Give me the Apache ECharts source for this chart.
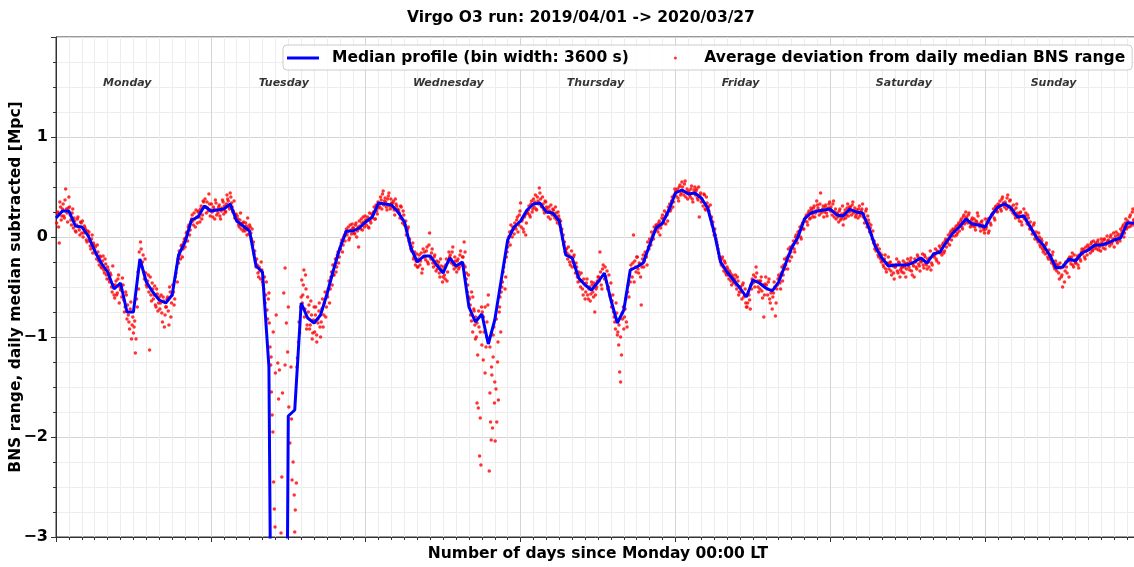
<!DOCTYPE html>
<html>
<head>
<meta charset="utf-8">
<title>Virgo O3 run</title>
<script src="https://cdn.jsdelivr.net/npm/echarts@6/dist/echarts.min.js"></script>
<style>
  html, body { margin: 0; padding: 0; background: #fff; }
  #chart { width: 1134px; height: 567px; }
</style>
</head>
<body>
<div id="chart"></div>
<script>
const FONT = 'DejaVu Sans'

// hourly median profile, index = hours since Monday 00:00 LT
const medianProfile = [
  0.19, 0.26, 0.26, 0.11, 0.10, 0.01, -0.14, -0.26, -0.35, -0.52, -0.46, -0.75,
  -0.75, -0.22, -0.45, -0.55, -0.63, -0.66, -0.58, -0.18, -0.05, 0.17, 0.20, 0.31,
  0.26, 0.27, 0.28, 0.33, 0.16, 0.11, 0.06, -0.29, -0.35, -1.30, -10, -12,
  -1.79, -1.73, -0.66, -0.81, -0.86, -0.78, -0.57, -0.33, -0.11, 0.06, 0.06, 0.09,
  0.15, 0.20, 0.34, 0.33, 0.32, 0.25, 0.15, -0.11, -0.25, -0.19, -0.19, -0.28,
  -0.36, -0.21, -0.29, -0.25, -0.70, -0.85, -0.77, -1.07, -0.83, -0.43, -0.03, 0.10,
  0.16, 0.27, 0.33, 0.34, 0.25, 0.24, 0.16, -0.18, -0.21, -0.41, -0.48, -0.53,
  -0.45, -0.36, -0.63, -0.86, -0.73, -0.33, -0.30, -0.26, -0.08, 0.09, 0.14, 0.27,
  0.44, 0.47, 0.43, 0.44, 0.39, 0.29, 0.05, -0.25, -0.35, -0.43, -0.51, -0.60,
  -0.43, -0.46, -0.51, -0.54, -0.45, -0.28, -0.11, 0.00, 0.18, 0.24, 0.26, 0.27,
  0.28, 0.22, 0.21, 0.28, 0.25, 0.24, 0.09, -0.10, -0.21, -0.29, -0.28, -0.28,
  -0.28, -0.25, -0.21, -0.26, -0.17, -0.15, -0.05, 0.04, 0.10, 0.18, 0.13, 0.12,
  0.10, 0.22, 0.30, 0.33, 0.29, 0.20, 0.21, 0.10, -0.01, -0.08, -0.18, -0.31,
  -0.30, -0.22, -0.24, -0.16, -0.13, -0.08, -0.08, -0.06, -0.03, -0.01, 0.14, 0.14,
  0.15
]

// average deviation dots, one group per hour of each day (first pass)
const devMonday = [
  [0.14, 0.25, -0.06, 0.30, 0.21], [0.33, 0.19, 0.48, 0.24, 0.29], [0.30, 0.17, 0.24, 0.09, 0.16],
  [0.05, 0.18, 0.10, 0.02, 0.14], [0.16, 0.04, 0.09, -0.03, 0.06], [0.05, -0.09, -0.02, -0.16, -0.08],
  [-0.10, -0.22, -0.15, -0.28, -0.20], [-0.31, -0.19, -0.36, -0.27, -0.42], [-0.33, -0.45, -0.38, -0.55, -0.48],
  [-0.61, -0.44, -0.56, -0.38, -0.50], [-0.52, -0.41, -0.63, -0.70, -0.58], [-0.68, -0.85, -0.72, -1.02, -0.80],
  [-0.90, -1.16, -0.62, -0.35, -0.15], [-0.05, -0.30, -0.18, -0.42, -0.36], [-0.50, -0.38, -1.13, -0.58, -0.46],
  [-0.62, -0.49, -0.70, -0.57, -0.66], [-0.72, -0.58, -0.85, -0.64, -0.78], [-0.70, -0.60, -0.88, -0.55, -0.66],
  [-0.48, -0.68, -0.40, -0.30, -0.22], [-0.14, -0.22, -0.08, -0.12, -0.02], [-0.01, 0.05, 0.10, 0.02, 0.15],
  [0.22, 0.12, 0.18, 0.27, 0.14], [0.26, 0.15, 0.31, 0.22, 0.35], [0.38, 0.24, 0.29, 0.43, 0.21]
]
const devTuesday = [
  [0.33, 0.20, 0.28, 0.37, 0.22], [0.24, 0.32, 0.18, 0.29, 0.35], [0.31, 0.25, 0.42, 0.36, 0.28],
  [0.40, 0.30, 0.26, 0.19, 0.23], [0.21, 0.12, 0.17, 0.08, 0.14], [0.15, 0.06, 0.11, 0.19, 0.03],
  [0.10, -0.02, -0.08, -0.17, -0.24], [-0.22, -0.36, -0.30, -0.42, -0.33], [-0.48, -0.40, -0.58, -0.73, -0.62],
  [-0.86, -1.10, -1.28, -1.55, -1.78, -1.95, -2.45, -2.72, -2.90], [-0.78, -1.26, -1.33, -2.96],
  [-1.56, -0.56, -0.31, -0.86, -1.15], [-1.70, -2.06, -1.30, -2.43, -2.25, -2.58],
  [-2.73, -2.46, -1.21, -1.05, -0.96, -0.70], [-0.43, -0.58, -0.33, -0.72, -0.52, -0.88],
  [-0.75, -0.92, -0.64, -1.02, -0.83], [-0.95, -0.70, -1.05, -0.82, -0.74, -0.90],
  [-0.85, -0.62, -0.78, -0.55, -0.70], [-0.60, -0.44, -0.52, -0.35, -0.28], [-0.38, -0.22, -0.30, -0.15, -0.20],
  [-0.12, -0.03, -0.08, 0.02, 0.05], [0.02, 0.10, -0.01, 0.07, 0.13], [0.09, 0.03, 0.14, 0.06, -0.10],
  [0.11, 0.18, 0.07, 0.15, 0.21]
]
const devWednesday = [
  [0.12, 0.20, 0.09, 0.16, 0.23], [0.22, 0.30, 0.18, 0.26, 0.35], [0.33, 0.40, 0.28, 0.46, 0.36],
  [0.35, 0.27, 0.41, 0.31, 0.38], [0.30, 0.36, 0.22, 0.33, 0.28], [0.27, 0.19, 0.30, 0.14, 0.22],
  [0.12, 0.02, 0.08, -0.04, -0.08], [-0.14, -0.06, -0.20, -0.28, -0.17], [-0.30, -0.18, -0.24, -0.36, -0.12],
  [-0.15, -0.23, -0.10, -0.27, 0.04], [-0.22, -0.12, -0.30, -0.18, -0.34], [-0.32, -0.25, -0.40, -0.29, -0.45],
  [-0.30, -0.42, -0.22, -0.35, -0.15], [-0.18, -0.26, -0.10, -0.32, -0.24], [-0.35, -0.22, -0.30, -0.14, -0.28],
  [-0.20, -0.05, -0.30, -0.42, -0.55, -0.38], [-0.62, -0.78, -0.55, -0.95, -0.72, -0.88],
  [-0.80, -1.00, -1.66, -1.18, -1.71, -0.90, -2.19, -1.81, -2.28, -0.70],
  [-0.75, -1.23, -0.95, -1.36, -1.10, -0.85, -0.68],
  [-1.05, -2.34, -1.56, -1.85, -2.03, -1.38, -1.91, -1.20, -0.90, -1.66],
  [-2.04, -1.52, -1.85, -1.25, -1.63, -0.75, -0.60, -0.95],
  [-0.50, -0.35, -0.25, -0.40, -0.15], [-0.05, 0.05, 0.12, 0.00, 0.08], [0.14, 0.08, 0.20, 0.12, 0.26]
]
const devThursday = [
  [0.10, 0.18, 0.05, 0.22, 0.14], [0.24, 0.31, 0.20, 0.36, 0.28], [0.30, 0.42, 0.27, 0.36, 0.49],
  [0.38, 0.30, 0.33, 0.24, 0.35], [0.28, 0.20, 0.26, 0.32, 0.22], [0.27, 0.19, 0.24, 0.14, 0.21],
  [0.12, 0.06, -0.02, -0.08, -0.15], [-0.12, -0.22, -0.18, -0.28, -0.14], [-0.25, -0.18, -0.36, -0.30, -0.45],
  [-0.38, -0.50, -0.44, -0.58, -0.47], [-0.55, -0.42, -0.62, -0.50, -0.57], [-0.48, -0.60, -0.75, -0.52, -0.44],
  [-0.40, -0.15, -0.48, -0.32, -0.38], [-0.30, -0.45, -0.52, -0.38, -0.60], [-0.70, -0.58, -0.80, -0.92, -0.76],
  [-0.95, -1.08, -1.35, -1.45, -1.18, -0.82, -0.70], [-0.80, -0.62, -0.90, -0.48, -0.38],
  [-0.28, -0.40, 0.02, -0.24, -0.35], [-0.20, -0.36, -0.27, -0.68, -0.22], [-0.30, -0.15, -0.20, -0.05, -0.12],
  [-0.04, 0.05, 0.02, 0.10, 0.07], [0.12, 0.05, 0.16, 0.09, 0.19], [0.18, 0.26, 0.13, 0.22, 0.30],
  [0.33, 0.28, 0.40, 0.35, 0.48]
]
const devFriday = [
  [0.41, 0.48, 0.36, 0.52, 0.44], [0.50, 0.42, 0.56, 0.45, 0.38], [0.46, 0.40, 0.51, 0.35, 0.47],
  [0.42, 0.48, 0.37, 0.20, 0.44], [0.38, 0.31, 0.42, 0.27, 0.34], [0.30, 0.22, 0.18, 0.12, 0.06],
  [0.08, -0.02, -0.08, -0.16, -0.22], [-0.28, -0.20, -0.34, -0.26, -0.38], [-0.32, -0.42, -0.36, -0.48, -0.40],
  [-0.45, -0.38, -0.52, -0.44, -0.55], [-0.50, -0.62, -0.46, -0.58, -0.66], [-0.70, -0.55, -0.63, -0.48, -0.42],
  [-0.38, -0.50, -0.30, -0.44, -0.55], [-0.52, -0.40, -0.61, -0.80, -0.47], [-0.48, -0.58, -0.42, -0.66, -0.53],
  [-0.60, -0.45, -0.79, -0.52, -0.42], [-0.40, -0.52, -0.30, -0.38, -0.22], [-0.28, -0.20, -0.12, -0.24, -0.15],
  [-0.10, -0.04, -0.15, 0.02, -0.06], [0.03, 0.10, -0.02, 0.14, 0.08], [0.16, 0.22, 0.12, 0.26, 0.19],
  [0.27, 0.20, 0.31, 0.24, 0.36], [0.29, 0.22, 0.44, 0.26, 0.31], [0.25, 0.32, 0.21, 0.29, 0.35]
]
const devSaturday = [
  [0.30, 0.22, 0.36, 0.25, 0.18], [0.24, 0.15, 0.28, 0.19, 0.31], [0.18, 0.27, 0.22, 0.33, 0.25],
  [0.30, 0.22, 0.35, 0.26, 0.20], [0.27, 0.19, 0.31, 0.23, 0.28], [0.20, 0.14, 0.26, 0.10, 0.17],
  [0.05, 0.12, -0.02, -0.06, -0.12], [-0.14, -0.08, -0.20, -0.16, -0.25], [-0.24, -0.30, -0.18, -0.35, -0.27],
  [-0.32, -0.25, -0.38, -0.29, -0.42], [-0.30, -0.22, -0.36, -0.26, -0.33], [-0.35, -0.24, -0.30, -0.40, -0.27],
  [-0.26, -0.33, -0.21, -0.38, -0.29], [-0.22, -0.30, -0.18, -0.27, -0.34], [-0.25, -0.17, -0.31, -0.20, -0.28],
  [-0.22, -0.30, -0.14, -0.26, -0.19], [-0.20, -0.12, -0.24, -0.15, -0.09], [-0.11, -0.18, -0.06, -0.14, -0.02],
  [-0.04, 0.02, -0.08, 0.06, 0.01], [0.07, 0.01, 0.11, 0.04, 0.14], [0.12, 0.18, 0.08, 0.22, 0.15],
  [0.20, 0.14, 0.24, 0.10, 0.17], [0.11, 0.18, 0.07, 0.15, 0.21], [0.13, 0.06, 0.16, 0.09, 0.04]
]
const devSunday = [
  [0.08, 0.15, 0.04, 0.19, 0.12], [0.22, 0.28, 0.17, 0.31, 0.25], [0.30, 0.36, 0.26, 0.40, 0.33],
  [0.35, 0.28, 0.42, 0.31, 0.37], [0.30, 0.24, 0.27, 0.19, 0.33], [0.22, 0.16, 0.25, 0.12, 0.20],
  [0.18, 0.24, 0.13, 0.19, 0.08], [0.08, 0.03, 0.12, -0.02, 0.05], [-0.03, 0.04, -0.08, -0.02, -0.12],
  [-0.10, -0.17, -0.06, -0.20, -0.13], [-0.20, -0.26, -0.15, -0.30, -0.24], [-0.34, -0.28, -0.42, -0.31, -0.38],
  [-0.30, -0.45, -0.25, -0.36, -0.22], [-0.20, -0.27, -0.16, -0.30, -0.23], [-0.26, -0.19, -0.31, -0.22, -0.15],
  [-0.17, -0.12, -0.22, -0.14, -0.08], [-0.10, -0.16, -0.05, -0.13, -0.09], [-0.06, -0.12, -0.03, -0.10, -0.14],
  [-0.05, -0.11, -0.02, -0.08, 0.01], [-0.03, -0.09, 0.02, -0.05, 0.04], [-0.02, 0.05, -0.06, 0.01, -0.04],
  [0.03, 0.10, 0.00, 0.14, 0.08], [0.16, 0.10, 0.22, 0.13, 0.28], [0.12, 0.19, 0.35, 0.15, 0.21]
]

// second pass of dots, sitting between the first ones
const devMonday2 = [
  [0.24, 0.10, 0.35, 0.17, 0.28], [0.21, 0.37, 0.28, 0.15, 0.40], [0.22, 0.12, 0.28, 0.19, 0.06],
  [0.12, 0.20, 0.07, 0.15, 0.04], [0.00, 0.11, 0.07, -0.05, 0.02], [-0.04, -0.12, 0.02, -0.06, -0.13],
  [-0.17, -0.08, -0.24, -0.19, -0.30], [-0.24, -0.33, -0.22, -0.38, -0.30], [-0.42, -0.36, -0.50, -0.29, -0.58],
  [-0.48, -0.58, -0.42, -0.66, -0.53], [-0.60, -0.48, -0.75, -0.55, -0.82], [-0.78, -0.92, -0.65, -0.88, -0.96],
  [-0.84, -1.02, -0.70, -0.52, -0.28], [-0.12, -0.25, -0.35, -0.22, -0.48], [-0.44, -0.55, -0.40, -0.64, -0.52],
  [-0.58, -0.68, -0.52, -0.74, -0.60], [-0.66, -0.76, -0.60, -0.90, -0.70], [-0.62, -0.74, -0.50, -0.80, -0.58],
  [-0.55, -0.62, -0.36, -0.45, -0.26], [-0.18, -0.09, -0.20, -0.05, -0.10], [0.04, -0.04, 0.12, 0.07, 0.18],
  [0.16, 0.24, 0.10, 0.20, 0.25], [0.20, 0.28, 0.18, 0.36, 0.30], [0.30, 0.35, 0.26, 0.33, 0.27]
]
const devTuesday2 = [
  [0.25, 0.30, 0.18, 0.34, 0.27], [0.30, 0.21, 0.26, 0.37, 0.23], [0.26, 0.33, 0.38, 0.30, 0.44],
  [0.34, 0.25, 0.36, 0.22, 0.17], [0.18, 0.10, 0.24, 0.13, 0.06], [0.08, 0.14, 0.02, 0.09, 0.12],
  [0.04, 0.08, -0.05, -0.14, -0.30], [-0.28, -0.40, -0.34, -0.25, -0.45], [-0.52, -0.66, -0.45, -0.82, -0.56],
  [-1.20, -0.95, -1.36], [-1.62, -2.40], [-1.28, -0.70], [-1.82, -2.95], [-1.30, -0.85, -0.60],
  [-0.66, -0.48, -0.80, -0.38, -0.92, -0.60], [-0.68, -0.88, -0.78, -0.96, -0.70],
  [-0.78, -0.98, -0.86, -0.66, -1.00], [-0.72, -0.90, -0.66, -0.80, -0.58], [-0.52, -0.66, -0.40, -0.48, -0.38],
  [-0.28, -0.35, -0.18, -0.26, -0.12], [-0.06, -0.15, 0.00, -0.04, 0.08], [0.05, -0.03, 0.12, 0.03, 0.09],
  [0.04, 0.12, 0.00, 0.10, 0.16], [0.08, 0.14, 0.20, 0.10, 0.17]
]
const devWednesday2 = [
  [0.17, 0.10, 0.24, 0.14, 0.19], [0.25, 0.18, 0.32, 0.23, 0.29], [0.30, 0.37, 0.43, 0.32, 0.39],
  [0.30, 0.38, 0.44, 0.28, 0.34], [0.34, 0.27, 0.38, 0.31, 0.25], [0.24, 0.31, 0.18, 0.26, 0.12],
  [0.16, 0.06, 0.10, -0.02, -0.12], [-0.10, -0.22, -0.15, -0.24, -0.30], [-0.22, -0.28, -0.16, -0.32, -0.20],
  [-0.20, -0.14, -0.25, -0.08, -0.20], [-0.16, -0.26, -0.20, -0.28, -0.24], [-0.28, -0.36, -0.22, -0.33, -0.40],
  [-0.38, -0.28, -0.44, -0.25, -0.20], [-0.22, -0.15, -0.28, -0.20, -0.30], [-0.24, -0.32, -0.18, -0.26, -0.20],
  [-0.28, -0.15, -0.36, -0.48, -0.60], [-0.68, -0.84, -0.60, -0.74, -1.02], [-0.86, -0.74, -0.95, -1.08],
  [-0.80, -0.70, -1.00, -0.58], [-1.10, -1.30, -0.98, -1.45], [-0.82, -1.05, -0.70, -0.55],
  [-0.45, -0.30, -0.52, -0.20, -0.10], [0.00, -0.08, 0.06, 0.10, 0.03], [0.10, 0.17, 0.05, 0.22, 0.34]
]
const devThursday2 = [
  [0.16, 0.08, 0.20, 0.02, 0.24], [0.27, 0.22, 0.33, 0.25, 0.38], [0.35, 0.28, 0.40, 0.33, 0.44],
  [0.31, 0.40, 0.27, 0.36, 0.30], [0.25, 0.30, 0.18, 0.24, 0.28], [0.22, 0.30, 0.17, 0.25, 0.18],
  [0.16, 0.08, 0.02, -0.05, -0.12], [-0.16, -0.10, -0.25, -0.20, -0.30], [-0.20, -0.30, -0.26, -0.40, -0.35],
  [-0.44, -0.36, -0.52, -0.42, -0.62], [-0.46, -0.58, -0.52, -0.64, -0.45], [-0.55, -0.46, -0.58, -0.50, -0.40],
  [-0.44, -0.35, -0.52, -0.28, -0.42], [-0.40, -0.34, -0.50, -0.58, -0.46], [-0.64, -0.75, -0.85, -0.66, -0.98],
  [-0.88, -1.00, -0.76, -0.92], [-0.72, -0.85, -0.55, -0.60, -0.45], [-0.32, -0.26, -0.45, -0.30, -0.20],
  [-0.32, -0.26, -0.40, -0.30, -0.18], [-0.24, -0.18, -0.28, -0.10, -0.02], [-0.08, 0.00, -0.02, 0.06, 0.12],
  [0.08, 0.14, 0.02, 0.12, 0.22], [0.14, 0.20, 0.24, 0.16, 0.27], [0.26, 0.36, 0.30, 0.42, 0.45]
]
const devFriday2 = [
  [0.46, 0.39, 0.50, 0.42, 0.55], [0.46, 0.53, 0.40, 0.48, 0.44], [0.42, 0.48, 0.38, 0.44, 0.50],
  [0.46, 0.39, 0.50, 0.42, 0.35], [0.36, 0.43, 0.28, 0.40, 0.30], [0.26, 0.32, 0.20, 0.15, 0.02],
  [0.02, -0.05, -0.12, -0.20, -0.25], [-0.22, -0.30, -0.24, -0.36, -0.30], [-0.38, -0.34, -0.44, -0.38, -0.46],
  [-0.42, -0.48, -0.40, -0.58, -0.50], [-0.55, -0.48, -0.60, -0.52, -0.70], [-0.66, -0.58, -0.72, -0.52, -0.46],
  [-0.45, -0.40, -0.36, -0.50, -0.44], [-0.44, -0.54, -0.48, -0.58, -0.40], [-0.52, -0.45, -0.62, -0.56, -0.72],
  [-0.56, -0.50, -0.66, -0.48, -0.38], [-0.46, -0.36, -0.44, -0.28, -0.32], [-0.22, -0.32, -0.18, -0.10, -0.20],
  [-0.08, -0.12, 0.00, -0.03, 0.05], [0.06, 0.00, 0.12, 0.08, 0.18], [0.20, 0.15, 0.24, 0.18, 0.29],
  [0.23, 0.29, 0.20, 0.26, 0.32], [0.26, 0.33, 0.24, 0.28, 0.20], [0.30, 0.24, 0.28, 0.33, 0.26]
]
const devSaturday2 = [
  [0.26, 0.33, 0.20, 0.28, 0.23], [0.20, 0.26, 0.17, 0.23, 0.12], [0.24, 0.19, 0.29, 0.21, 0.30],
  [0.26, 0.32, 0.24, 0.29, 0.22], [0.24, 0.28, 0.21, 0.26, 0.33], [0.23, 0.18, 0.28, 0.21, 0.14],
  [0.09, 0.02, 0.06, -0.04, -0.09], [-0.10, -0.18, -0.12, -0.22, -0.18], [-0.28, -0.22, -0.32, -0.26, -0.20],
  [-0.26, -0.34, -0.28, -0.36, -0.30], [-0.28, -0.34, -0.25, -0.40, -0.31], [-0.30, -0.36, -0.26, -0.32, -0.22],
  [-0.30, -0.24, -0.34, -0.27, -0.40], [-0.25, -0.32, -0.20, -0.29, -0.24], [-0.22, -0.28, -0.18, -0.26, -0.32],
  [-0.25, -0.21, -0.33, -0.28, -0.17], [-0.18, -0.22, -0.14, -0.26, -0.16], [-0.15, -0.08, -0.16, -0.04, -0.10],
  [-0.06, -0.02, 0.04, -0.03, 0.08], [0.05, 0.09, 0.02, 0.12, 0.06], [0.16, 0.10, 0.20, 0.13, 0.25],
  [0.18, 0.22, 0.15, 0.12, 0.19], [0.14, 0.10, 0.16, 0.24, 0.12], [0.10, 0.15, 0.12, 0.07, 0.18]
]
const devSunday2 = [
  [0.10, 0.18, 0.06, 0.14, 0.22], [0.24, 0.19, 0.30, 0.26, 0.33], [0.32, 0.28, 0.38, 0.34, 0.30],
  [0.33, 0.39, 0.30, 0.36, 0.27], [0.27, 0.32, 0.22, 0.29, 0.24], [0.19, 0.24, 0.15, 0.21, 0.28],
  [0.21, 0.16, 0.22, 0.12, 0.15], [0.10, 0.06, 0.14, 0.02, 0.00], [-0.05, 0.00, -0.10, -0.04, -0.15],
  [-0.13, -0.08, -0.16, -0.22, -0.18], [-0.23, -0.18, -0.28, -0.32, -0.27], [-0.30, -0.36, -0.26, -0.40, -0.50],
  [-0.28, -0.34, -0.30, -0.24, -0.40], [-0.24, -0.20, -0.28, -0.18, -0.26], [-0.22, -0.28, -0.18, -0.24, -0.12],
  [-0.14, -0.20, -0.10, -0.18, -0.12], [-0.12, -0.07, -0.14, -0.04, -0.11], [-0.09, -0.05, -0.13, -0.07, -0.02],
  [-0.08, -0.03, -0.12, -0.06, -0.04], [-0.06, 0.00, -0.07, -0.02, -0.10], [0.01, -0.04, 0.03, -0.02, 0.08],
  [0.06, 0.12, 0.04, 0.18, 0.10], [0.14, 0.20, 0.11, 0.25, 0.17], [0.17, 0.24, 0.13, 0.30, 0.18]
]

const dayNames = ['Monday', 'Tuesday', 'Wednesday', 'Thursday', 'Friday', 'Saturday', 'Sunday']
const dayLabelHours = [11.05, 35.3, 60.8, 83.6, 106.1, 131.4, 154.6]
const dayLabelLevel = 1.54

const lineName = 'Median profile (bin width: 3600 s)'
const dotName = 'Average deviation from daily median BNS range'

// spread the dots of each hour over that hour, second pass shifted by half a step
const weekDev = [].concat(devMonday, devTuesday, devWednesday, devThursday, devFriday, devSaturday, devSunday)
const weekDev2 = [].concat(devMonday2, devTuesday2, devWednesday2, devThursday2, devFriday2, devSaturday2, devSunday2)
const devPoints = []
weekDev.forEach((vals, h) => {
  vals.forEach((v, k) => devPoints.push([h + (k + 0.5) / vals.length, v]))
})
weekDev2.forEach((vals, h) => {
  vals.forEach((v, k) => devPoints.push([h + (k + 1) / vals.length, v]))
})

const chart = echarts.init(document.getElementById('chart'))
const axisColor = '#333'

chart.setOption({
  animation: false,
  backgroundColor: '#fff',
  textStyle: { fontFamily: FONT },
  title: {
    text: 'Virgo O3 run: 2019/04/01 -> 2020/03/27',
    left: 402,
    top: 5,
    textStyle: { fontFamily: FONT, fontWeight: 'bold', fontSize: 15.5, color: '#000' }
  },
  grid: {
    left: 56,
    top: 37,
    width: 1084,
    height: 500,
    outerBoundsMode: 'none',
    show: true,
    borderColor: axisColor,
    borderWidth: 1
  },
  legend: {
    left: 283,
    top: 45,
    data: [{ name: lineName, icon: 'rect' }, { name: dotName, icon: 'circle' }],
    itemWidth: 32,
    itemHeight: 3,
    itemGap: 45,
    padding: [5, 7, 4, 4],
    backgroundColor: 'rgba(255,255,255,0.85)',
    borderColor: '#cccccc',
    borderWidth: 1,
    borderRadius: 4,
    textStyle: { fontFamily: FONT, fontWeight: 'bold', fontSize: 15.5, color: '#000', padding: [0, 0, 0, 8] }
  },
  xAxis: {
    type: 'value',
    min: 0,
    max: 168,
    interval: 24,
    name: 'Number of days since Monday 00:00 LT',
    nameLocation: 'middle',
    nameGap: 9,
    nameTextStyle: { fontFamily: FONT, fontWeight: 'bold', fontSize: 15.5, color: '#000' },
    axisLine: { onZero: false, lineStyle: { color: axisColor } },
    axisTick: { length: 5, lineStyle: { color: axisColor } },
    minorTick: { show: true, splitNumber: 12, length: 3, lineStyle: { color: axisColor } },
    axisLabel: { show: false },
    splitLine: { lineStyle: { color: '#d4d4d4' } },
    minorSplitLine: { show: true, lineStyle: { color: '#ededed' } }
  },
  yAxis: {
    type: 'value',
    min: -3,
    max: 2,
    interval: 1,
    name: 'BNS range, daily median subtracted [Mpc]',
    nameLocation: 'middle',
    nameGap: 32,
    nameMoveOverlap: false,
    nameTextStyle: { fontFamily: FONT, fontWeight: 'bold', fontSize: 15.5, color: '#000' },
    axisLine: { show: true, onZero: false, lineStyle: { color: axisColor } },
    axisTick: { show: true, length: 5, lineStyle: { color: axisColor } },
    minorTick: { show: true, splitNumber: 4, length: 3, lineStyle: { color: axisColor } },
    axisLabel: {
      fontFamily: FONT,
      fontWeight: 'bold',
      fontSize: 16,
      color: '#000',
      margin: 8,
      showMaxLabel: false,
      formatter: v => (v < 0 ? '\u2212' + (-v) : String(v))
    },
    splitLine: { lineStyle: { color: '#d4d4d4' } },
    minorSplitLine: { show: true, lineStyle: { color: '#ededed' } }
  },
  series: [
    {
      name: dotName,
      type: 'scatter',
      symbolSize: 3.5,
      itemStyle: { color: '#ff0000' },
      data: devPoints,
      z: 2
    },
    {
      name: lineName,
      type: 'line',
      showSymbol: false,
      clip: true,
      lineStyle: { color: '#0000ff', width: 3 },
      itemStyle: { color: '#0000ff' },
      data: medianProfile.map((v, h) => [h, v]),
      z: 3
    },
    {
      name: 'days',
      type: 'scatter',
      silent: true,
      symbolSize: 1,
      itemStyle: { color: 'rgba(0,0,0,0)' },
      label: {
        show: true,
        position: 'inside',
        fontFamily: FONT,
        fontStyle: 'italic',
        fontWeight: 'bold',
        fontSize: 11,
        color: '#000',
        formatter: p => dayNames[p.dataIndex]
      },
      data: dayLabelHours.map(h => [h, dayLabelLevel]),
      z: 4
    }
  ]
})
</script>
</body>
</html>
